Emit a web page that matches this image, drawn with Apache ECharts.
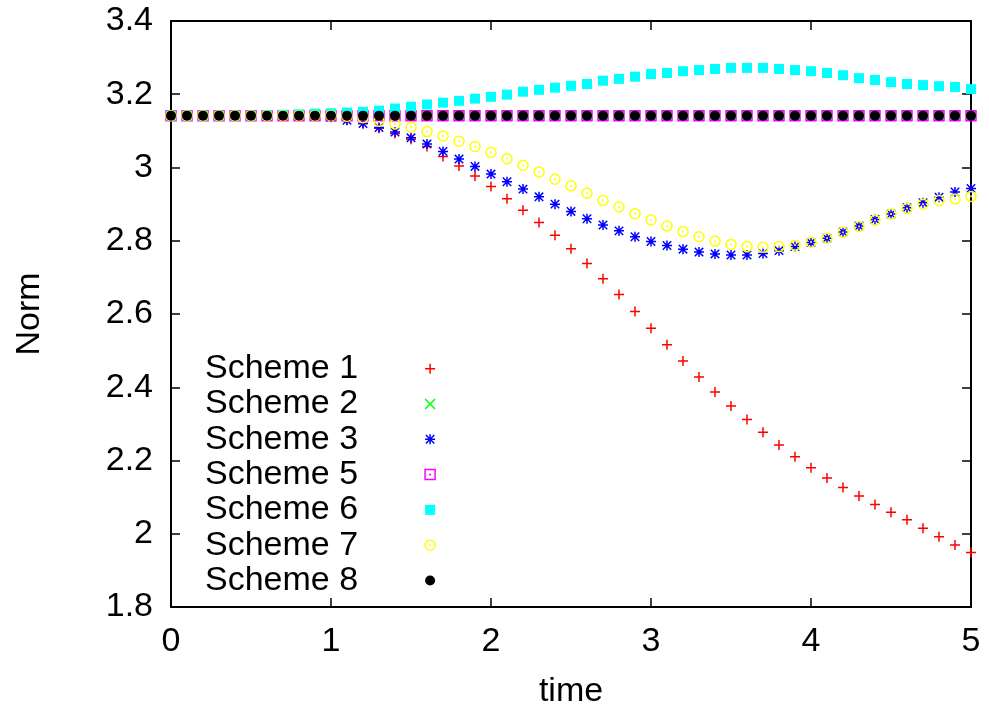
<!DOCTYPE html>
<html>
<head>
<meta charset="utf-8">
<script src="https://cdn.jsdelivr.net/npm/echarts@6/dist/echarts.min.js"></script>
<style>
  html, body { margin: 0; padding: 0; background: #fff; }
  #chart { width: 989px; height: 715px; }
</style>
</head>
<body>
<div id="chart"></div>
<script>
var time = [0, 0.1, 0.2, 0.3, 0.4, 0.5, 0.6, 0.7, 0.8, 0.9,
  1, 1.1, 1.2, 1.3, 1.4, 1.5, 1.6, 1.7, 1.8, 1.9,
  2, 2.1, 2.2, 2.3, 2.4, 2.5, 2.6, 2.7, 2.8, 2.9,
  3, 3.1, 3.2, 3.3, 3.4, 3.5, 3.6, 3.7, 3.8, 3.9,
  4, 4.1, 4.2, 4.3, 4.4, 4.5, 4.6, 4.7, 4.8, 4.9, 5];

var scheme1 = [3.1416, 3.1416, 3.1416, 3.1416, 3.1416, 3.1416, 3.1416, 3.1416, 3.1416, 3.1416,
  3.138, 3.130, 3.120, 3.107, 3.093, 3.077, 3.057, 3.030, 3.004, 2.977,
  2.948, 2.915, 2.883, 2.850, 2.815, 2.778, 2.738, 2.696, 2.653, 2.607,
  2.561, 2.516, 2.472, 2.428, 2.387, 2.349, 2.312, 2.277, 2.242, 2.210,
  2.180, 2.152, 2.126, 2.103, 2.080, 2.059, 2.038, 2.015, 1.992, 1.969, 1.949];
var scheme2 = [3.1416, 3.1416, 3.1416, 3.1416, 3.1416, 3.1416, 3.1416, 3.1416, 3.1416, 3.1416,
  3.1416, 3.1416, 3.1416, 3.1416, 3.1416, 3.1416, 3.1416, 3.1416, 3.1416, 3.1416,
  3.1416, 3.1416, 3.1416, 3.1416, 3.1416, 3.1416, 3.1416, 3.1416, 3.1416, 3.1416,
  3.1416, 3.1416, 3.1416, 3.1416, 3.1416, 3.1416, 3.1416, 3.1416, 3.1416, 3.1416,
  3.1416, 3.1416, 3.1416, 3.1416, 3.1416, 3.1416, 3.1416, 3.1416, 3.1416, 3.1416, 3.1416];
var scheme3 = [3.1416, 3.1416, 3.1416, 3.1416, 3.1416, 3.1416, 3.1416, 3.1416, 3.141, 3.140,
  3.137, 3.129, 3.120, 3.109, 3.097, 3.081, 3.064, 3.044, 3.023, 3.003,
  2.982, 2.961, 2.941, 2.920, 2.900, 2.880, 2.860, 2.843, 2.827, 2.811,
  2.798, 2.787, 2.777, 2.769, 2.764, 2.761, 2.761, 2.765, 2.773, 2.784,
  2.795, 2.807, 2.824, 2.840, 2.858, 2.873, 2.890, 2.904, 2.919, 2.933, 2.943];
var scheme5 = scheme2.slice();
var scheme6 = [3.1416, 3.1416, 3.1416, 3.1416, 3.1416, 3.1416, 3.143, 3.144, 3.145, 3.147,
  3.148, 3.150, 3.152, 3.155, 3.161, 3.166, 3.172, 3.177, 3.182, 3.188,
  3.193, 3.199, 3.207, 3.212, 3.218, 3.223, 3.228, 3.237, 3.242, 3.248,
  3.255, 3.258, 3.263, 3.266, 3.269, 3.272, 3.272, 3.272, 3.269, 3.266,
  3.263, 3.258, 3.252, 3.244, 3.239, 3.233, 3.228, 3.225, 3.222, 3.220, 3.214];
var scheme7 = [3.1416, 3.1416, 3.1416, 3.1416, 3.1416, 3.1416, 3.1416, 3.1416, 3.1416, 3.1416,
  3.1416, 3.140, 3.136, 3.126, 3.119, 3.110, 3.098, 3.086, 3.072, 3.057,
  3.041, 3.024, 3.006, 2.988, 2.968, 2.950, 2.930, 2.910, 2.892, 2.874,
  2.857, 2.840, 2.825, 2.811, 2.799, 2.790, 2.784, 2.782, 2.784, 2.788,
  2.796, 2.807, 2.823, 2.839, 2.856, 2.873, 2.888, 2.900, 2.910, 2.914, 2.921];
var scheme8 = scheme2.slice();

var names = ['Scheme 1', 'Scheme 2', 'Scheme 3', 'Scheme 5', 'Scheme 6', 'Scheme 7', 'Scheme 8'];
var colors = ['#ff0000', '#00ff00', '#0000ff', '#ff00ff', '#00ffff', '#ffff00', '#000000'];
var values = [scheme1, scheme2, scheme3, scheme5, scheme6, scheme7, scheme8];

// gnuplot-like point types
var circlePath = 'M10 5C10 7.761 7.761 10 5 10C2.239 10 0 7.761 0 5C0 2.239 2.239 0 5 0C7.761 0 10 2.239 10 5Z';
var dotPath = 'M4.85 4.85L5.15 4.85L5.15 5.15L4.85 5.15Z';
var symbols = [
  'path://M0 5L10 5M5 0L5 10',
  'path://M0 0L10 10M0 10L10 0',
  'path://M0 5L10 5M5 0L5 10M0.8 0.8L9.2 9.2M0.8 9.2L9.2 0.8',
  'path://M0 0L10 0L10 10L0 10Z' + dotPath,
  'rect',
  'path://' + circlePath + dotPath,
  'circle'
];
var sizes = [10, 9, 10, 10, 10, 10, 10];
var hollow = [true, true, true, true, false, true, false];

var font = "'Liberation Sans', Arial, Helvetica, sans-serif";

function pairs(ys) {
  return time.map(function (t, i) { return [t, ys[i]]; });
}

var series = names.map(function (name, k) {
  return {
    name: name,
    type: 'scatter',
    symbol: symbols[k],
    symbolSize: sizes[k],
    z: 2 + k,
    clip: false,
    itemStyle: hollow[k]
      ? { color: 'transparent', borderColor: colors[k], borderWidth: 1.5, opacity: 1 }
      : { color: colors[k], borderWidth: 0, opacity: 1 },
    emphasis: { disabled: true },
    data: pairs(values[k])
  };
});

var chart = echarts.init(document.getElementById('chart'), null, { renderer: 'canvas' });

var tickStyle = { show: true, inside: true, length: 9, lineStyle: { color: '#000', width: 1.5 } };
var lineStyle = { show: true, onZero: false, lineStyle: { color: '#000', width: 2 } };

chart.setOption({
  animation: false,
  backgroundColor: '#fff',
  grid: { left: 171, right: 18, top: 21, bottom: 108, containLabel: false },
  legend: {
    orient: 'vertical',
    left: 205,
    top: 351,
    padding: 0,
    align: 'right',
    itemWidth: 10,
    itemHeight: 10,
    itemGap: 0,
    selectedMode: false,
    itemStyle: { borderWidth: 1.5 },
    textStyle: { fontSize: 34, fontFamily: font, color: '#000', lineHeight: 35.3, padding: [0, 62, 0, 0] },
    data: names
  },
  xAxis: [{
    type: 'value', position: 'bottom', min: 0, max: 5, interval: 1,
    axisLine: lineStyle, axisTick: tickStyle, splitLine: { show: false },
    axisLabel: { fontSize: 34, fontFamily: font, color: '#000', margin: 18 },
    name: 'time', nameLocation: 'middle', nameGap: 68,
    nameTextStyle: { fontSize: 34, fontFamily: font, color: '#000' }
  }, {
    type: 'value', position: 'top', min: 0, max: 5, interval: 1,
    axisLine: lineStyle, axisTick: tickStyle, splitLine: { show: false },
    axisLabel: { show: false }
  }],
  yAxis: [{
    type: 'value', position: 'left', min: 1.8, max: 3.4, interval: 0.2,
    axisLine: lineStyle, axisTick: tickStyle, splitLine: { show: false },
    axisLabel: { fontSize: 34, fontFamily: font, color: '#000', margin: 18 },
    name: 'Norm', nameLocation: 'middle', nameGap: 124, nameRotate: 90,
    nameTextStyle: { fontSize: 34, fontFamily: font, color: '#000' }
  }, {
    type: 'value', position: 'right', min: 1.8, max: 3.4, interval: 0.2,
    axisLine: lineStyle, axisTick: tickStyle, splitLine: { show: false },
    axisLabel: { show: false }
  }],
  series: series
});
</script>
</body>
</html>
